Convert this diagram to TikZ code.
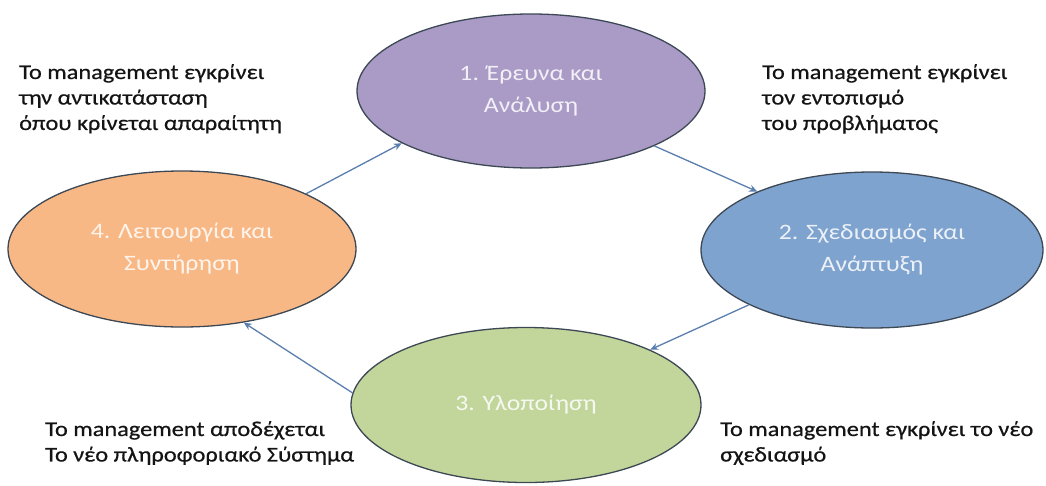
\documentclass[tikz,border=0pt]{standalone}
\usepackage{fontspec}
\setmainfont{Carlito}[FakeStretch=1.17]
\newfontfamily\notefont{Carlito}[FakeStretch=1.16,FakeBold=0.6]
\usetikzlibrary{shapes.geometric,arrows.meta}
\definecolor{purplefill}{HTML}{A99AC6}
\definecolor{bluefill}{HTML}{7FA3CF}
\definecolor{greenfill}{HTML}{C2D69B}
\definecolor{orangefill}{HTML}{F8B886}
\definecolor{outl}{HTML}{3D4855}
\definecolor{txt}{HTML}{141414}
\definecolor{arrowc}{HTML}{5A7FAF}
\begin{document}
\begin{tikzpicture}[x=1pt,y=-1pt,
  stage/.style={ellipse,draw=outl,line width=1.3pt,inner sep=0pt,minimum width=348pt,minimum height=154pt,align=center,text=white,text opacity=0.85,font=\fontsize{22}{32}\selectfont},
  note/.style={anchor=north west,inner sep=0pt,align=left,text=txt,font=\notefont\fontsize{21}{25.5}\selectfont},
  flow/.style={draw=arrowc,line width=1.3pt,-{Stealth[length=8pt,width=7pt]}}]
\useasboundingbox[fill=white] (0,0) rectangle (1046,485);
\node[stage,fill=purplefill] (e1) at (531,91) {1. Έρευνα και\\Ανάλυση};
\node[stage,fill=bluefill,minimum width=342pt,minimum height=156pt] (e2) at (872,250) {2. Σχεδιασμός και\\Ανάπτυξη};
\node[stage,fill=greenfill,minimum width=350pt,minimum height=155pt] (e3) at (526,405) {3. Υλοποίηση};
\node[stage,fill=orangefill,minimum height=156pt] (e4) at (182,249) {4. Λειτουργία και\\Συντήρηση};
\node[note] (t1) at (19,64) {Το management εγκρίνει\\την αντικατάσταση\\όπου κρίνεται απαραίτητη};
\node[note] (t2) at (762,64) {Το management εγκρίνει\\τον εντοπισμό\\του προβλήματος};
\node[note] (t3) at (45,421) {Το management αποδέχεται\\Το νέο πληροφοριακό Σύστημα};
\node[note] (t4) at (720,421) {Το management εγκρίνει το νέο\\σχεδιασμό};
\draw[flow] (e4.24) -- (e1.202);
\draw[flow] (e1.336) -- (e2.153);
\draw[flow] (e2.204) -- (e3.24);
\draw[flow] (e3.176) -- (e4.310);
\end{tikzpicture}
\end{document}
